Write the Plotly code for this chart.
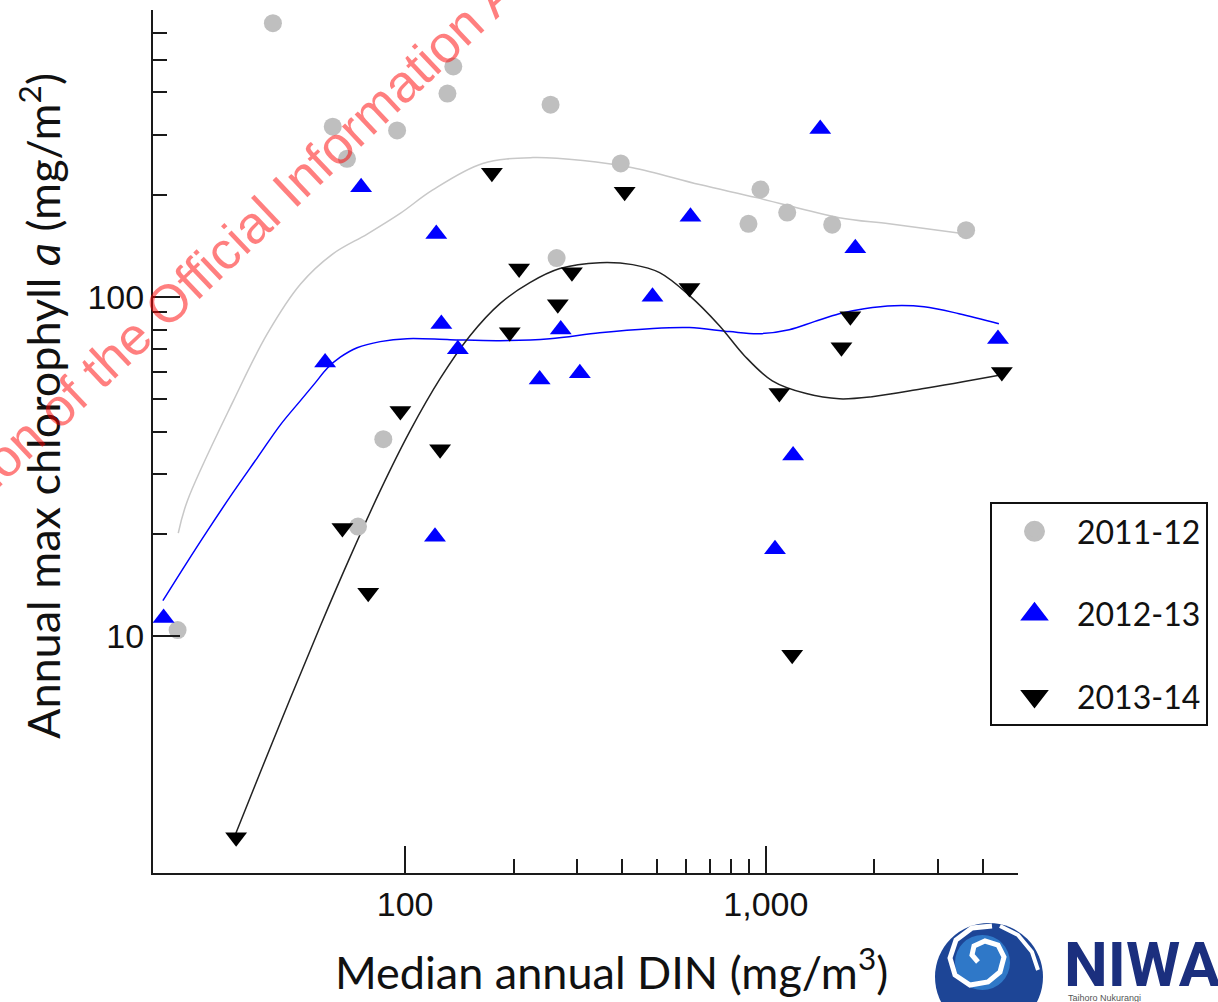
import plotly.graph_objects as go

# ---------------- data ----------------
series_names = ["2011-12", "2012-13", "2013-14"]

din_2011 = [43, 63, 69, 95, 131, 136, 253, 396, 263, 87, 74, 23.4, 966, 895, 1146, 1527, 3590]
chl_2011 = [640, 317, 255, 309, 397, 477, 368, 247, 130, 38, 21, 10.4, 207, 164, 177, 163, 157]

din_2012 = [21.4, 60, 75.5, 122, 126, 140, 121, 236, 270, 305, 485, 618, 1415, 1770, 1060, 1190, 4400]
chl_2012 = [11.3, 64, 210, 153, 83, 70, 19.6, 57, 80, 59.5, 100, 172, 312, 139, 18, 34, 75]

din_2013 = [34, 67, 79, 97, 125, 174, 195, 207, 265, 290, 406, 614, 1090, 1183, 1620, 1715, 4510]
chl_2013 = [2.55, 20.8, 13.4, 46, 35.5, 232, 78.5, 121, 95, 118, 204, 106, 52, 8.8, 71, 87.5, 60]

# smoothed trend curves
fit_x_2011 = [23.5, 24.9, 33.4, 41.5, 51.3, 63.2, 78.5, 96.9, 119, 164, 226, 311, 427, 655, 941, 1597, 2197, 3589]
fit_y_2011 = [20.1, 25.0, 49.3, 77.8, 109, 134, 153, 176, 206, 247, 257, 252, 240, 214, 196, 171, 164, 153]

fit_x_2012 = [21.3, 24.6, 28.3, 33.2, 39.0, 45.1, 51.2, 56.4, 60.9, 66.1, 73.6, 85.3, 101.3, 133.2, 183.2,
              251.8, 346.3, 476, 614, 792.5, 959.5, 1161, 1362, 1597, 1873, 2267, 2745, 3430, 4426]
fit_y_2012 = [12.7, 16.2, 20.4, 26.3, 33.6, 41.9, 49.3, 55.8, 61.6, 66.3, 70.7, 73.7, 75.2, 74.7, 74.2,
              75.2, 78.3, 80.5, 81.1, 78.9, 77.8, 79.9, 84.4, 89.1, 92.2, 94.1, 93.4, 89.1, 83.2]

fit_x_2013 = [33.9, 39.7, 48.1, 58.2, 70.4, 85.3, 103.2, 125, 151.3, 183.2, 221.7, 268.4, 346.3, 427.2,
              507.5, 614.3, 743.6, 872, 1042, 1294, 1597, 1970, 2710, 4510]
fit_y_2013 = [2.61, 3.97, 6.56, 10.7, 17.1, 26.8, 40.2, 57.3, 76.7, 95.4, 110, 121, 126, 124.3,
              117.7, 100.7, 82.1, 67.0, 56.5, 51.8, 50.0, 50.7, 53.5, 58.9]

x_tick_vals = [100, 1000]
x_tick_text = ["100", "1,000"]
x_minor_vals = [200, 300, 400, 500, 600, 700, 800, 900, 2000, 3000, 4000]
y_tick_vals = [10, 100]
y_tick_text = ["10", "100"]
y_minor_vals = [20, 30, 40, 50, 60, 70, 80, 90, 200, 300, 400, 500, 600, 700]

# ---------------- styling / layout ----------------
W, H = 1218, 1002
ML, MR, MT, MB = 153, 200, 10, 129
PW, PH = W - ML - MR, H - MT - MB


def px(xp):
    return (xp - ML) / PW


def py(yp):
    return (H - MB - yp) / PH


GREY = "#bfbfbf"
BLUE = "#0000ff"
BLACK = "#000000"
AX = "#1a1a1a"

fig = go.Figure()

# trend curves
fig.add_trace(go.Scatter(x=fit_x_2011, y=fit_y_2011, mode="lines", line=dict(color="#c8c8c8", width=1.5, shape="spline", smoothing=1),
                         showlegend=False, hoverinfo="skip"))
fig.add_trace(go.Scatter(x=fit_x_2012, y=fit_y_2012, mode="lines", line=dict(color=BLUE, width=1.5, shape="spline", smoothing=1),
                         showlegend=False, hoverinfo="skip"))
fig.add_trace(go.Scatter(x=fit_x_2013, y=fit_y_2013, mode="lines", line=dict(color="#222222", width=1.5, shape="spline", smoothing=1),
                         showlegend=False, hoverinfo="skip"))

# points
fig.add_trace(go.Scatter(x=din_2011, y=chl_2011, mode="markers", name=series_names[0], showlegend=False,
                         marker=dict(symbol="circle", size=18, color=GREY)))
fig.add_trace(go.Scatter(x=din_2012, y=chl_2012, mode="markers", name=series_names[1], showlegend=False,
                         marker=dict(symbol="triangle-up", size=19, color=BLUE)))
fig.add_trace(go.Scatter(x=din_2013, y=chl_2013, mode="markers", name=series_names[2], showlegend=False,
                         marker=dict(symbol="triangle-down", size=19, color=BLACK)))

# legend entries (larger keys)
for name, sym, col in zip(series_names, ["circle", "triangle-up", "triangle-down"], [GREY, BLUE, BLACK]):
    fig.add_trace(go.Scatter(x=[None], y=[None], mode="markers", name=name, legendgroup=name,
                             marker=dict(symbol=sym, size=16, color=col, line=dict(color=col, width=5))))

TICKFONT = dict(family="Liberation Sans, Arial, sans-serif", size=34, color="#111111")

fig.update_xaxes(type="log", range=[1.30103, 3.69897], showgrid=False, zeroline=False,
                 showline=True, linecolor=AX, linewidth=2, mirror=False,
                 tickmode="array", tickvals=x_tick_vals, ticktext=x_tick_text,
                 ticks="inside", ticklen=27, tickwidth=2, tickcolor=AX, tickfont=TICKFONT,
                 minor=dict(tickmode="array", tickvals=x_minor_vals, ticks="inside", ticklen=14,
                            tickwidth=2, tickcolor=AX, showgrid=False))
fig.update_yaxes(type="log", range=[0.30103, 2.845098], showgrid=False, zeroline=False,
                 showline=True, linecolor=AX, linewidth=2, mirror=False,
                 tickmode="array", tickvals=y_tick_vals, ticktext=y_tick_text,
                 ticks="inside", ticklen=27, tickwidth=2, tickcolor=AX, tickfont=TICKFONT,
                 minor=dict(tickmode="array", tickvals=y_minor_vals, ticks="inside", ticklen=14,
                            tickwidth=2, tickcolor=AX, showgrid=False))

TITLEFONT = dict(family="Lato, Open Sans, sans-serif", size=45, color="#111111")

annotations = [
    dict(text="Median annual DIN (mg/m<sup>3</sup>)", xref="paper", yref="paper", x=px(611), y=py(969),
         xanchor="center", yanchor="middle", showarrow=False, font=TITLEFONT),
    dict(text="Annual max chlorophyll <i>a</i> (mg/m<sup>2</sup>)", xref="paper", yref="paper",
         x=px(40), y=py(406), xanchor="center", yanchor="middle", textangle=-90, showarrow=False, font=TITLEFONT),
    # watermark
    dict(text="ion of the Official Information Act", xref="paper", yref="paper", x=px(261), y=py(215),
         xanchor="center", yanchor="middle", textangle=-43.3, showarrow=False,
         font=dict(family="Liberation Sans, Arial, sans-serif", size=53, color="rgba(255,0,0,0.5)")),
    # NIWA logo text
    dict(text="<b>NIWA</b>", xref="paper", yref="paper", x=px(1062), y=py(964), xanchor="left", yanchor="middle",
         height=52, showarrow=False, font=dict(family="Roboto, Liberation Sans, sans-serif", size=62, color="#1b2f7e")),
    dict(text="Taihoro Nukurangi", xref="paper", yref="paper", x=px(1066), y=py(998), xanchor="left", yanchor="middle",
         showarrow=False, font=dict(family="Liberation Sans, sans-serif", size=9, color="#555555")),
]

# NIWA swirl emblem
shapes = [
    dict(type="circle", xref="paper", yref="paper", x0=px(935), x1=px(1043), y0=py(923), y1=py(1031),
         fillcolor="#1d4596", line=dict(width=0), layer="above"),
    dict(type="circle", xref="paper", yref="paper", x0=px(955), x1=px(1010), y0=py(935), y1=py(990),
         fillcolor="#2f78c8", line=dict(width=0), layer="above"),
]


def path(points):
    s = "M {} {}".format(px(points[0][0]), py(points[0][1]))
    for a, b in points[1:]:
        s += " L {} {}".format(px(a), py(b))
    return s


swirl = [(978, 962), (972, 955), (974, 946), (985, 941), (998, 945), (1004, 957), (1000, 972), (988, 982),
         (970, 985), (955, 975), (950, 958), (956, 940), (972, 928), (992, 926)]
shapes.append(dict(type="path", xref="paper", yref="paper", path=path(swirl), line=dict(color="white", width=5),
                   layer="above"))
shapes.append(dict(type="path", xref="paper", yref="paper",
                   path=path([(1000, 926), (1018, 935), (1032, 952), (1038, 970)]),
                   line=dict(color="white", width=4), layer="above"))

fig.update_layout(
    width=W, height=H, margin=dict(l=ML, r=MR, t=MT, b=MB, pad=0),
    paper_bgcolor="white", plot_bgcolor="white",
    annotations=annotations, shapes=shapes,
    showlegend=True,
    legend=dict(x=px(990), y=py(502), xanchor="left", yanchor="top", bgcolor="white",
                bordercolor="#111111", borderwidth=2, traceorder="grouped", tracegroupgap=38,
                font=dict(family="Lato, Open Sans, sans-serif", size=32, color="#111111"),
                itemwidth=75),
)

fig.write_html("out.html")
